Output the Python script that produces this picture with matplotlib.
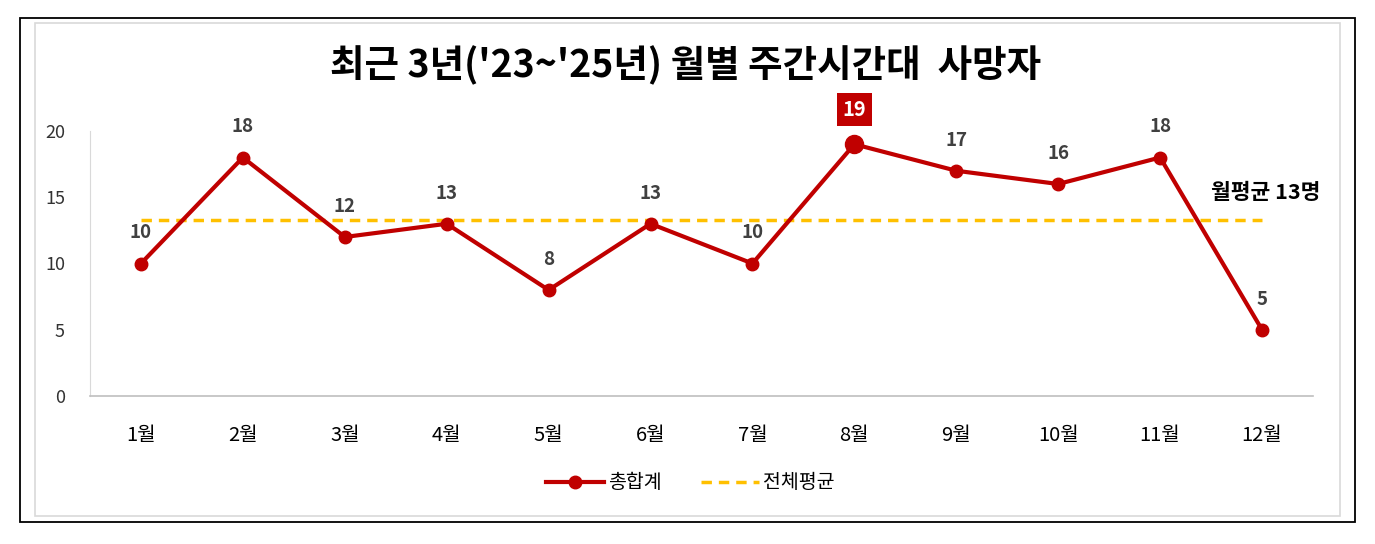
import matplotlib
matplotlib.use("Agg")
import matplotlib.pyplot as plt
from matplotlib.patches import Rectangle
import numpy as np

plt.rcParams['font.family'] = ['Noto Sans CJK KR', 'DejaVu Sans']

months = ['1월', '2월', '3월', '4월', '5월', '6월', '7월', '8월', '9월', '10월', '11월', '12월']
totals = [10, 18, 12, 13, 8, 13, 10, 19, 17, 16, 18, 5]
yticks = [0, 5, 10, 15, 20]
title = "최근 3년('23~'25년) 월별 주간시간대  사망자"
avg_label = '월평균 13명'
series_names = ['총합계', '전체평균']

avg = np.mean(totals)
red = '#C00000'
gold = '#FFC000'

W, H = 1375, 544
fig = plt.figure(figsize=(W / 100, H / 100), dpi=100)
fig.patch.set_facecolor('white')

# borders
fig.patches.append(Rectangle((20 / W, 1 - 522 / H), 1335 / W, 504 / H, transform=fig.transFigure,
                             fill=False, edgecolor='black', linewidth=1.3))
fig.patches.append(Rectangle((35 / W, 1 - 516 / H), 1305 / W, 493 / H, transform=fig.transFigure,
                             fill=False, edgecolor='#D9D9D9', linewidth=1.2))

ax = fig.add_axes([90 / W, 1 - 396 / H, (1313 - 90) / W, (396 - 131) / H])
x = np.arange(len(months))

avg_line, = ax.plot(x, [avg] * len(x), color=gold, linewidth=2.5, dashes=(3, 2), zorder=2,
                    label=series_names[1])
tot_line, = ax.plot(x, totals, color=red, linewidth=3, marker='o', markersize=9, zorder=3,
                    label=series_names[0])
imax = int(np.argmax(totals))
ax.plot([x[imax]], [totals[imax]], marker='o', markersize=13, color=red, zorder=4)

for i, v in enumerate(totals):
    if i == imax:
        ax.annotate(str(v), (x[i], v), xytext=(0, 25), textcoords='offset points',
                    ha='center', va='center', fontsize=14.5, fontweight='bold', color='white',
                    bbox=dict(boxstyle='square,pad=0.3', facecolor=red, edgecolor='none'))
    else:
        ax.annotate(str(v), (x[i], v), xytext=(0, 22), textcoords='offset points',
                    ha='center', va='center', fontsize=13.5, fontweight='bold', color='#404040')

ax.text(1266 / W, 1 - 192 / H, avg_label, transform=fig.transFigure, ha='center', va='center',
        fontsize=15.5, fontweight='bold', color='black')

ax.set_xlim(-0.5, len(months) - 0.5)
ax.set_ylim(0, 20)
ax.set_yticks(yticks)
ax.set_xticks(x)
ax.set_xticklabels(months, fontsize=14.5, color='black')
ax.tick_params(axis='y', length=0, pad=18, labelsize=13, labelcolor='#333333')
ax.tick_params(axis='x', length=0, pad=21)
for s in ['top', 'right']:
    ax.spines[s].set_visible(False)
ax.spines['left'].set_color('#D9D9D9')
ax.spines['bottom'].set_color('#BFBFBF')
ax.spines['bottom'].set_linewidth(1.2)

fig.text(686 / W, 1 - 65 / H, title, ha='center', va='center', fontsize=27, fontweight='bold',
         color='black')

fig.legend(handles=[tot_line, avg_line], labels=series_names, loc='center',
           bbox_to_anchor=(690 / W, 1 - 483 / H), ncol=2, frameon=False, fontsize=14,
           handlelength=3, columnspacing=2.0, handletextpad=0.2)

fig.savefig('out.png', dpi=100, facecolor='white')
